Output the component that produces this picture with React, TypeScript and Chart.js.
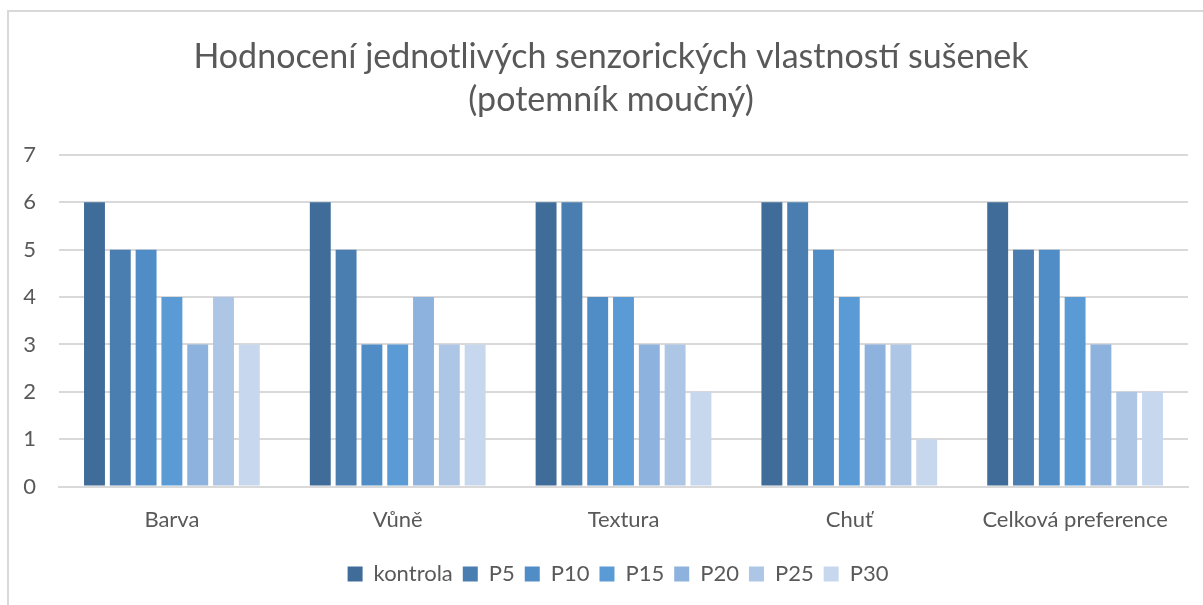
import React, { useEffect, useRef } from "react";
import { Chart, registerables } from "chart.js";

Chart.register(...registerables);

const titleLines = ["Hodnocení jednotlivých senzorických vlastností sušenek", "(potemník moučný)"];
const categories = ["Barva", "Vůně", "Textura", "Chuť", "Celková preference"];
const seriesNames = ["kontrola", "P5", "P10", "P15", "P20", "P25", "P30"];
const kontrola = [6, 6, 6, 6, 6];
const p5 = [5, 5, 6, 6, 5];
const p10 = [5, 3, 4, 5, 5];
const p15 = [4, 3, 4, 4, 4];
const p20 = [3, 4, 3, 3, 3];
const p25 = [4, 3, 3, 3, 2];
const p30 = [3, 3, 2, 1, 2];
const seriesValues = [kontrola, p5, p10, p15, p20, p25, p30];
const seriesColors = ["#3F6C98", "#4A7EB0", "#508DC6", "#5B9BD5", "#8DB2DE", "#ADC6E6", "#C6D7EE"];

const FONT = "Lato, 'Open Sans', sans-serif";
const TEXT = "#595959";

const shiftBoxes = {
  id: "shiftBoxes",
  afterLayout(chart: any) {
    if (chart.titleBlock) chart.titleBlock.left += 26;
    if (chart.legend) chart.legend.left += 40;
  },
};

export default function App() {
  const ref = useRef<HTMLCanvasElement | null>(null);
  useEffect(() => {
    if (!ref.current) return;
    const chart = new Chart(ref.current, {
      type: "bar",
      data: {
        labels: categories,
        datasets: seriesNames.map((name, i) => ({
          label: name,
          data: seriesValues[i],
          backgroundColor: seriesColors[i],
          borderWidth: 0,
          barPercentage: 0.81,
          categoryPercentage: 0.8,
        })),
      },
      plugins: [shiftBoxes],
      options: {
        responsive: false,
        animation: false,
        devicePixelRatio: 1,
        layout: { padding: { left: 8, right: 15, top: 0, bottom: 10 } },
        plugins: {
          title: {
            display: true,
            text: titleLines,
            color: TEXT,
            font: { family: FONT, size: 34, weight: "normal", lineHeight: 1.25 },
            padding: { top: 36, bottom: 34 },
          },
          legend: {
            position: "bottom",
            labels: {
              color: TEXT,
              boxWidth: 15,
              boxHeight: 15,
              padding: 10,
              font: { family: FONT, size: 22 },
            },
          },
          tooltip: { enabled: false },
        },
        scales: {
          x: {
            grid: { display: false, drawTicks: false },
            border: { display: true, color: "#d9d9d9", width: 2 },
            ticks: { color: TEXT, font: { family: FONT, size: 22 }, padding: 20 },
          },
          y: {
            min: 0,
            max: 7,
            afterFit: (s: any) => { s.width = 51; },
            grid: { color: "#d9d9d9", lineWidth: 2, drawTicks: false },
            border: { display: false },
            ticks: { stepSize: 1, color: TEXT, font: { family: FONT, size: 22 }, padding: 23 },
          },
        },
      },
    });
    return () => chart.destroy();
  }, []);
  return (
    <>
      <div
        style={{
          position: "fixed",
          left: 7,
          top: 10,
          width: 1400,
          height: 800,
          border: "2px solid #d9d9d9",
          boxSizing: "border-box",
          background: "#fff",
        }}
      />
      <canvas
        ref={ref}
        width={1203}
        height={605}
        style={{ position: "fixed", left: 0, top: 0, width: 1203, height: 605 }}
      />
    </>
  );
}
